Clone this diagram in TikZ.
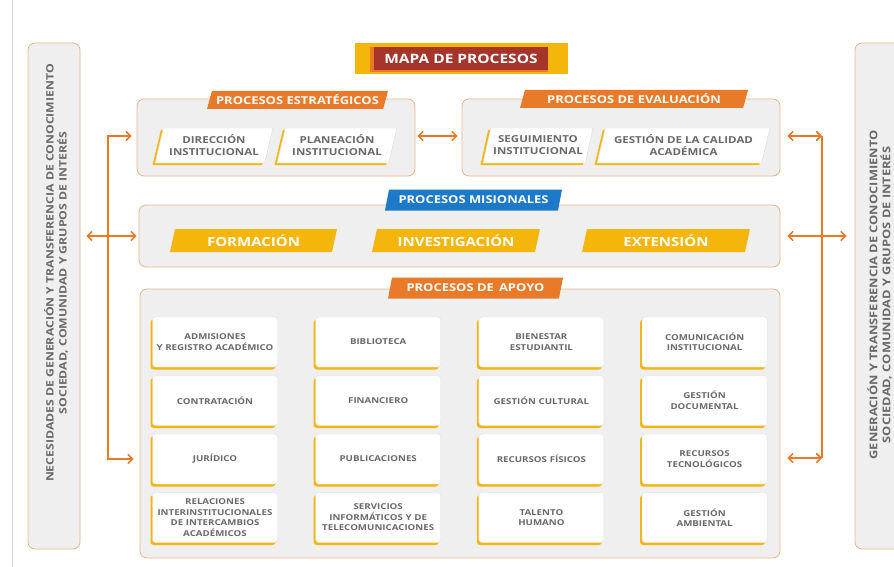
\documentclass[tikz,border=0pt]{standalone}
\usepackage{fontspec}
\setmainfont{Open Sans}[FakeStretch=1.2]
\usepackage{tikz}
\usetikzlibrary{arrows}
\usetikzlibrary{shapes.geometric}
\usetikzlibrary{shadows}

\definecolor{naranja}{HTML}{E87A2A}
\definecolor{oro}{HTML}{F5B60C}
\definecolor{azul}{HTML}{1D7AC9}
\definecolor{granate}{HTML}{A5342A}
\definecolor{fondo}{HTML}{EFEFF0}
\definecolor{borde}{HTML}{EDB38A}
\definecolor{texto}{HTML}{6A6A6A}

\tikzset{
  grupo/.style={draw=borde, fill=fondo, line width=0.8pt, rounded corners=7pt},
  pestana/.style={trapezium, trapezium left angle=68, trapezium right angle=112,
    trapezium stretches body, fill=#1, text=white, inner sep=1pt,
    font=\bfseries\fontsize{10.8}{12}\selectfont},
  proceso/.style={trapezium, trapezium left angle=70, trapezium right angle=110,
    trapezium stretches body, fill=white, draw=black!15, text=texto, align=center,
    inner sep=1pt, minimum height=35pt, font=\bfseries\fontsize{9.6}{12}\selectfont,
    drop shadow={shadow xshift=-2.5pt, shadow yshift=-2pt, fill=oro, opacity=1}},
  misional/.style={trapezium, trapezium left angle=70, trapezium right angle=110,
    trapezium stretches body, fill=oro, text=white, inner sep=1pt,
    minimum height=23pt, font=\bfseries\fontsize{12.5}{14}\selectfont},
  apoyo/.style={rectangle, rounded corners=3pt, fill=white, draw=black!12, text=texto,
    align=center, minimum width=125pt, minimum height=50pt, text width=123pt,
    inner sep=0pt, font=\bfseries\fontsize{8.1}{10.5}\selectfont,
    drop shadow={shadow xshift=-2pt, shadow yshift=-2.5pt, fill=oro, opacity=1}},
  lateral/.style={rotate=90, align=center, text=texto,
    font=\bfseries\fontsize{10.2}{13}\selectfont},
  flecha/.style={draw=naranja, line width=1.6pt, >=angle 90},
}

\begin{document}
\begin{tikzpicture}[x=1pt, y=-1pt]
    \useasboundingbox (0,0) rectangle (894,567);
    \draw[black!15] (12,0) -- (12,567);

    % titulo
    \fill[oro] (355,43) rectangle (568,74);
    \fill[naranja] (370,47) rectangle (548,72);
    \fill[granate] (374,47) rectangle (548,70);
    \node[text=white, font=\bfseries\fontsize{12.9}{14}\selectfont] (titulo) at (461,58.5) {MAPA DE PROCESOS};

    % paneles laterales
    \node[grupo, minimum width=52pt, minimum height=506pt] (izq) at (54,296) {};
    \node[lateral] (izqtexto) at (56,273) {NECESIDADES DE GENERACIÓN Y TRANSFERENCIA DE CONOCIMIENTO\\SOCIEDAD, COMUNIDAD Y GRUPOS DE INTERÉS};
    \node[grupo, minimum width=54pt, minimum height=506pt] (der) at (882,296) {};
    \node[lateral, font=\bfseries\fontsize{10.7}{13}\selectfont] (dertexto) at (879.5,295) {GENERACIÓN Y TRANSFERENCIA DE CONOCIMIENTO\\SOCIEDAD, COMUNIDAD Y GRUPOS DE INTERÉS};

    % estrategicos y evaluacion
    \node[grupo, minimum width=278pt, minimum height=77pt] (estr) at (276,137.5) {};
    \node[pestana=naranja, minimum width=181pt, minimum height=18pt] (estrtab) at (297.5,100) {PROCESOS ESTRATÉGICOS};
    \node[proceso, minimum width=118pt] (direccion) at (214,145.5) {DIRECCIÓN\\INSTITUCIONAL};
    \node[proceso, minimum width=120pt] (planeacion) at (337,145.5) {PLANEACIÓN\\INSTITUCIONAL};

    \node[grupo, minimum width=318pt, minimum height=77pt] (eval) at (621,137.5) {};
    \node[pestana=naranja, minimum width=228pt, minimum height=18pt] (evaltab) at (634,99) {PROCESOS DE EVALUACIÓN};
    \node[proceso, minimum width=110pt] (seguimiento) at (538,145.5) {SEGUIMIENTO\\INSTITUCIONAL};
    \node[proceso, minimum width=173pt] (calidad) at (683.5,145.5) {GESTIÓN DE LA CALIDAD\\ACADÉMICA};

    % misionales
    \node[grupo, minimum width=641pt, minimum height=62pt] (mis) at (459.5,236) {};
    \node[pestana=azul, minimum width=177pt, minimum height=21pt] (mistab) at (473.5,200) {PROCESOS MISIONALES};
    \node[misional, minimum width=167pt] (formacion) at (253.5,240.5) {FORMACIÓN};
    \node[misional, minimum width=168pt] (investigacion) at (456,240.5) {INVESTIGACIÓN};
    \node[misional, minimum width=168pt] (extension) at (666,240.5) {EXTENSIÓN};

    % apoyo
    \node[grupo, minimum width=640pt, minimum height=269pt] (apo) at (460,423.5) {};
    \node[pestana=naranja, minimum width=175pt, minimum height=21pt] (apotab) at (475.5,288) {PROCESOS DE \,APOYO};
    \foreach \c/\r/\t in {1/1/{ADMISIONES\\Y REGISTRO ACADÉMICO}, 1/2/CONTRATACIÓN, 1/3/JURÍDICO,
        1/4/{RELACIONES\\INTERINSTITUCIONALES\\DE INTERCAMBIOS\\ACADÉMICOS},
        2/1/BIBLIOTECA, 2/2/FINANCIERO, 2/3/PUBLICACIONES,
        2/4/{SERVICIOS\\INFORMÁTICOS Y DE\\TELECOMUNICACIONES},
        3/1/{BIENESTAR\\ESTUDIANTIL}, 3/2/GESTIÓN CULTURAL, 3/3/RECURSOS FÍSICOS, 3/4/{TALENTO\\HUMANO},
        4/1/{COMUNICACIÓN\\INSTITUCIONAL}, 4/2/{GESTIÓN\\DOCUMENTAL}, 4/3/{RECURSOS\\TECNOLÓGICOS},
        4/4/{GESTIÓN\\AMBIENTAL}}
    \node[apoyo] (ap-\c-\r) at ({215+(\c-1)*163.2},{342+(\r-1)*58.5}) {\t};

    % conectores izquierda
    \coordinate (iz1) at (108,136);
    \coordinate (iz2) at (108,459);
    \draw[flecha,<->, shorten <=5pt, shorten >=6pt] (estr.west |- iz1) -- (iz1) -- (iz2) -- (apo.west |- iz2);
    \draw[flecha,<->, shorten <=6pt, shorten >=2pt] (izq.east |- mis.west) -- (mis.west);

    % conectores derecha
    \coordinate (de1) at (822,136);
    \coordinate (de2) at (822,458);
    \draw[flecha] (de1) -- (de2);
    \draw[flecha,<->, shorten <=7pt] (eval.east |- de1) -- (de1);
    \draw[flecha,<->, shorten <=7pt, shorten >=8pt] (mis.east) -- (der.west |- mis.east);
    \draw[flecha,<->, shorten <=7pt] (apo.east |- de2) -- (de2);
    \draw[flecha,<->, shorten <=2pt, shorten >=4pt] (estr.east |- iz1) -- (eval.west |- iz1);
\end{tikzpicture}
\end{document}
